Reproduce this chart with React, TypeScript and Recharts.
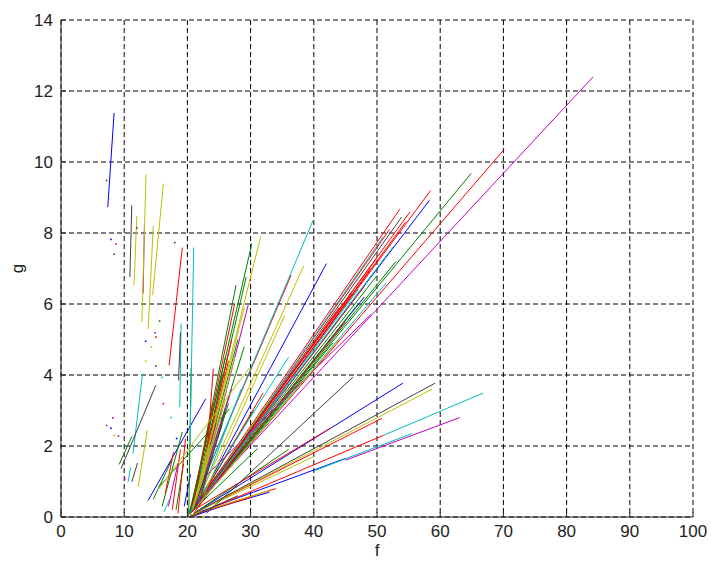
import { CartesianGrid, ComposedChart, Line, Scatter, XAxis, YAxis } from 'recharts';

// each segment: [f1, g1, f2, g2]
const blueSegs = [
  [7.4, 8.73, 8.4, 11.38],
  [13.8, 0.47, 22.9, 3.33],
  [22, 0.5, 42, 7.14],
  [20.5, 0.1, 58.3, 8.92],
  [21, 0.2, 48, 6.2],
  [21, 0.1, 54.1, 3.77],
  [20.5, 0.05, 45, 1.65],
  [20.5, 0.05, 33, 0.7],
  [20.5, 0, 27, 0.4],
  [21, 0.2, 29, 2.0],
  [20.3, 0.1, 24.5, 2.6],
  [19.5, 0.3, 20.5, 1.2]
];

const greenSegs = [
  [9.2, 1.48, 11.2, 2.27],
  [20.2, 0, 20.6, 4.2],
  [20.3, 0.1, 30.2, 7.7],
  [20.5, 0.1, 27.7, 6.53],
  [20.8, 0.3, 29.3, 6.76],
  [20.4, 0.1, 26, 4.5],
  [21.5, 0.5, 25.5, 4.0],
  [21.8, 0.5, 26.5, 3.2],
  [22, 1, 24.5, 2.8],
  [21, 0.2, 64.9, 9.68],
  [21, 0.2, 50, 6.8],
  [21.5, 0.3, 47, 6.0],
  [21.5, 0.3, 43, 4.9],
  [21, 0.2, 31.1, 1.93],
  [15.5, 0.85, 26.7, 3.05],
  [16.0, 0.3, 19.2, 2.4],
  [21, 0.2, 30.5, 3.0],
  [21, 0.1, 36, 1.9],
  [14.6, 0.5, 17.5, 1.6],
  [18.2, 0.2, 19.4, 1.5],
  [21, 0.2, 53, 7.2],
  [21, 0.3, 28, 5.0],
  [22, 0.8, 29, 4.8],
  [20.8, 0.2, 24, 3.2]
];

const redSegs = [
  [17.1, 4.27, 19.2, 7.59],
  [22.8, 1.0, 24.1, 4.18],
  [20.6, 0.2, 27.5, 6.02],
  [21, 0.2, 27.0, 5.0],
  [22, 0.8, 36.4, 6.81],
  [20.5, 0.1, 58.5, 9.2],
  [20.5, 0.1, 55.2, 8.59],
  [20.5, 0.1, 53.6, 8.67],
  [21, 0.2, 52, 8.1],
  [21, 0.3, 50, 7.3],
  [20.5, 0.1, 70.1, 10.35],
  [21.5, 0.3, 48, 6.5],
  [21, 0.2, 45, 5.5],
  [21, 0.2, 32, 3.5],
  [21, 0.1, 50.8, 2.78],
  [20.5, 0, 51, 2.3],
  [21, 0.2, 42.6, 2.5],
  [20.5, 0.05, 34, 0.8],
  [20.5, 0.05, 30, 0.55],
  [17.6, 0.2, 18.9, 1.9],
  [18.5, 0.1, 19.7, 2.2],
  [16.5, 0.66, 17.8, 1.83],
  [21, 0.1, 49, 7.0],
  [21, 0.2, 54.5, 8.3],
  [21, 0.3, 46, 6.3],
  [21, 0.2, 44, 5.9],
  [21.2, 0.3, 26.5, 4.4]
];

const cyanSegs = [
  [18.8, 3.1, 19.0, 5.45],
  [20.4, 2.0, 21.0, 7.59],
  [11.4, 1.79, 12.9, 4.04],
  [10.65, 1.0, 11.0, 1.4],
  [22, 0.8, 39.9, 8.36],
  [21, 0.2, 51, 7.9],
  [21, 0.2, 52.5, 7.6],
  [21, 0.2, 51.5, 6.6],
  [20.5, 0.1, 25.5, 3.0],
  [21, 0.3, 36, 4.5],
  [51, 2.3, 66.8, 3.49],
  [40, 1.3, 55.5, 2.35],
  [16.3, 0.15, 17.2, 0.5],
  [21, 0.2, 22.5, 1.5],
  [21, 0.2, 47, 6.4],
  [21.5, 0.3, 28.5, 3.6]
];

const magentaSegs = [
  [13.0, 6.3, 13.2, 8.24],
  [21.5, 0.3, 29.6, 5.96],
  [22.5, 0.8, 25, 3.2],
  [21, 0.3, 84.2, 12.4],
  [22, 1.0, 49, 5.7],
  [21, 0.2, 30, 2.5],
  [45, 1.6, 63.1, 2.8],
  [17.0, 0.3, 18.5, 1.5],
  [21, 0.2, 27, 3.6]
];

const yellowSegs = [
  [11.55, 6.53, 12.0, 8.48],
  [12.8, 5.5, 13.45, 9.65],
  [13.8, 5.3, 14.6, 8.2],
  [14.5, 6.25, 16.2, 9.39],
  [12.2, 0.85, 13.65, 2.44],
  [20.8, 0.2, 31.6, 7.9],
  [21, 0.3, 29.0, 5.9],
  [22, 0.8, 26, 3.3],
  [21, 0.2, 23.5, 2.0],
  [22, 0.6, 38.4, 7.07],
  [22.5, 0.6, 35.4, 5.68],
  [21, 0.2, 44, 5.0],
  [21.5, 0.3, 33, 3.3],
  [21, 0.1, 58.7, 3.6],
  [20.5, 0.05, 33, 0.75],
  [15.5, 0.8, 29.8, 4.2],
  [21, 0.1, 40, 1.7],
  [21.5, 0.5, 27.5, 4.5]
];

const blackSegs = [
  [10.9, 6.76, 11.2, 8.78],
  [18.6, 3.85, 18.9, 5.2],
  [9.5, 1.36, 15.0, 3.71],
  [11.2, 0.99, 12.1, 1.52],
  [22, 0.5, 26, 3.0],
  [21, 0.2, 53.9, 8.45],
  [23, 0.1, 46.2, 3.94],
  [21, 0.1, 59.2, 3.77],
  [20.5, 0, 28, 0.6],
  [21, 0.2, 25.5, 2.6]
];

// stray single points: [f, g]
const blueDots = [[7.9, 2.5], [13.4, 4.95], [18.3, 2.21], [7.9, 7.82]];
const magentaDots = [[7.2, 2.58], [8.2, 2.79], [9.1, 2.28], [14.9, 5.19], [16.2, 3.19], [10.1, 1.08]];
const yellowDots = [[8.4, 2.3], [14.3, 4.79], [13.4, 4.39]];
const redDots = [[15.0, 5.07], [8.7, 7.69]];
const greenDots = [[15.6, 5.52]];
const blackDots = [[15.0, 4.25], [8.4, 7.4], [7.2, 9.48], [12.0, 8.14], [18.0, 7.73]];
const cyanDots = [[16.0, 3.93], [17.4, 2.8]];

const xTicks = [0, 10, 20, 30, 40, 50, 60, 70, 80, 90, 100];
const yTicks = [0, 2, 4, 6, 8, 10, 12, 14];

const colors = {
  blue: '#0000ff',
  green: '#008000',
  red: '#ff0000',
  cyan: '#00bfbf',
  magenta: '#bf00bf',
  yellow: '#bfbf00',
  black: '#404040'
};

const groups = [
  { segs: blueSegs, dots: blueDots, color: colors.blue },
  { segs: greenSegs, dots: greenDots, color: colors.green },
  { segs: redSegs, dots: redDots, color: colors.red },
  { segs: cyanSegs, dots: cyanDots, color: colors.cyan },
  { segs: magentaSegs, dots: magentaDots, color: colors.magenta },
  { segs: yellowSegs, dots: yellowDots, color: colors.yellow },
  { segs: blackSegs, dots: blackDots, color: colors.black }
];

const tickStyle = { fontFamily: 'Liberation Sans, Arial, sans-serif', fontSize: 17, fill: '#222' };

export default function App() {
  return (
    <div style={{ position: 'absolute', left: 0, top: 0, background: '#fff' }}>
      <ComposedChart width={711} height={564} margin={{ top: 20, right: 18, bottom: 5, left: 5 }}>
        <CartesianGrid stroke='#000' strokeDasharray='5 3' strokeWidth={1} />
        <XAxis
          dataKey='f'
          type='number'
          domain={[0, 100]}
          ticks={xTicks}
          height={42}
          tickSize={-5}
          tickMargin={13}
          stroke='#222'
          tick={tickStyle}
          allowDataOverflow
          label={{ value: 'f', position: 'insideBottom', offset: 3, style: tickStyle }}
        />
        <XAxis
          xAxisId='top'
          orientation='top'
          type='number'
          domain={[0, 100]}
          ticks={xTicks}
          height={0}
          tickSize={-5}
          tick={false}
          stroke='#222'
        />
        <YAxis
          type='number'
          domain={[0, 14]}
          ticks={yTicks}
          width={56}
          tickSize={-5}
          tickMargin={13}
          stroke='#222'
          tick={tickStyle}
          allowDataOverflow
          label={{
            value: 'g',
            angle: -90,
            position: 'insideLeft',
            offset: 12,
            style: { ...tickStyle, textAnchor: 'middle' }
          }}
        />
        <YAxis
          yAxisId='right'
          orientation='right'
          type='number'
          domain={[0, 14]}
          ticks={yTicks}
          width={0}
          tickSize={-5}
          tick={false}
          stroke='#222'
        />
        {groups.map((grp, gi) =>
          grp.segs.map((s, i) => (
            <Line
              key={`l-${gi}-${i}`}
              data={[
                { f: s[0], g: s[1] },
                { f: s[2], g: s[3] }
              ]}
              dataKey='g'
              type='linear'
              stroke={grp.color}
              strokeWidth={1}
              dot={false}
              activeDot={false}
              isAnimationActive={false}
            />
          ))
        )}
        {groups.map((grp, gi) => (
          <Scatter
            key={`d-${gi}`}
            data={grp.dots.map((d) => ({ f: d[0], g: d[1] }))}
            dataKey='g'
            fill={grp.color}
            isAnimationActive={false}
            shape={(p: any) => <rect x={p.cx - 0.8} y={p.cy - 0.8} width={1.6} height={1.6} fill={grp.color} />}
          />
        ))}
      </ComposedChart>
    </div>
  );
}
